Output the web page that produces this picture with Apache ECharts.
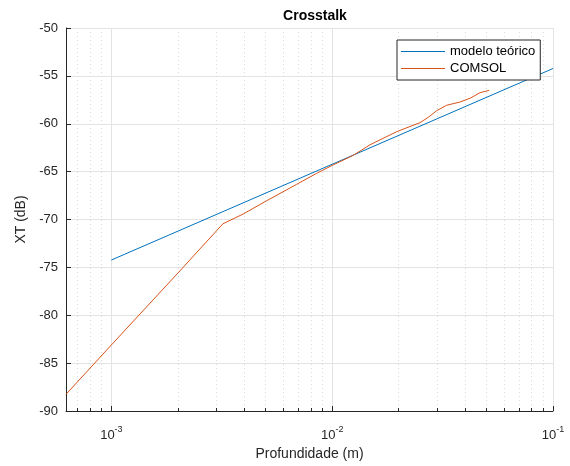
<!DOCTYPE html>
<html>
<head>
<meta charset="utf-8">
<script src="https://cdn.jsdelivr.net/npm/echarts@6/dist/echarts.min.js"></script>
<style>
    html, body { margin: 0; padding: 0; background: #fff; }
    #chart { width: 570px; height: 466px; }
</style>
</head>
<body>
<div id="chart"></div>
<script>
// depth (m) and crosstalk (dB)
const xLimits = [0.000623, 0.1];
const yLimits = [-90, -50];
const majorTicks = [0.001, 0.01, 0.1];
const minorTicks = [
    0.0007, 0.0008, 0.0009,
    0.002, 0.003, 0.004, 0.005, 0.006, 0.007, 0.008, 0.009,
    0.02, 0.03, 0.04, 0.05, 0.06, 0.07, 0.08, 0.09
];

const modeloX = [0.001, 0.01, 0.1];
const modeloY = [-74.23, -64.23, -54.23];

const comsolX = [0.000623, 0.001, 0.002, 0.0032, 0.00395, 0.00505, 0.0069, 0.0085, 0.01, 0.01245,
    0.01483, 0.01959, 0.02496, 0.02723, 0.02972, 0.03297, 0.0379, 0.0421, 0.0467, 0.0514];
const comsolY = [-88.26, -83.1, -75.6, -70.45, -69.43, -68.04, -66.33, -65.18, -64.35, -63.3,
    -62.2, -60.83, -59.89, -59.33, -58.64, -58.07, -57.73, -57.34, -56.76, -56.51];

const textColor = '#262626';
const font = 'Liberation Sans, Arial, sans-serif';
const lg = v => Math.log10(v);
const toPairs = (xs, ys) => xs.map((x, i) => [lg(x), ys[i]]);

const chart = echarts.init(document.getElementById('chart'));

const options = {
    backgroundColor: '#fff',
    animation: false,
    textStyle: { fontFamily: font },
    title: {
        text: 'Crosstalk',
        left: 310,
        top: 4,
        textAlign: 'center',
        textStyle: { fontSize: 14, fontWeight: 'bold', color: '#000', fontFamily: font }
    },
    legend: {
        left: 397,
        top: 40,
        orient: 'vertical',
        backgroundColor: '#fff',
        borderColor: textColor,
        borderWidth: 1,
        borderRadius: 0,
        padding: [5, 5, 5, 4],
        icon: 'rect',
        itemWidth: 44,
        itemHeight: 1,
        itemGap: 4,
        textStyle: { fontSize: 13, color: '#000', fontFamily: font },
        data: ['modelo teórico', 'COMSOL']
    },
    grid: {
        left: 66,
        right: 17,
        top: 28,
        bottom: 55
    },
    xAxis: [
        {
            type: 'value',
            min: lg(xLimits[0]),
            max: lg(xLimits[1]),
            name: 'Profundidade (m)',
            nameLocation: 'middle',
            nameGap: 36,
            nameTextStyle: { fontSize: 14, color: textColor, fontFamily: font },
            axisLine: { show: true, onZero: false, lineStyle: { color: textColor, width: 1 } },
            axisTick: { show: true, inside: true, length: 5, customValues: majorTicks.map(lg), lineStyle: { color: textColor } },
            axisLabel: {
                margin: 14,
                customValues: majorTicks.map(lg),
                formatter: v => '{b|10}{s|' + Math.round(v) + '}',
                rich: {
                    b: { fontSize: 13, lineHeight: 14, padding: [6, 0, 0, 0], color: textColor, fontFamily: font },
                    s: { fontSize: 9, lineHeight: 10, verticalAlign: 'top', color: textColor, fontFamily: font }
                }
            },
            splitLine: { show: true, lineStyle: { color: '#e3e3e3', width: 1 } }
        },
        {
            type: 'value',
            position: 'bottom',
            min: lg(xLimits[0]),
            max: lg(xLimits[1]),
            axisLine: { show: false },
            axisTick: { show: true, inside: true, length: 3, customValues: minorTicks.map(lg), lineStyle: { color: textColor } },
            axisLabel: { show: false },
            splitLine: { show: true, lineStyle: { color: '#dadada', width: 1, type: [1, 3] } }
        }
    ],
    yAxis: {
        type: 'value',
        min: yLimits[0],
        max: yLimits[1],
        interval: 5,
        name: 'XT (dB)',
        nameLocation: 'middle',
        nameGap: 36,
        nameTextStyle: { fontSize: 14, color: textColor, fontFamily: font },
        axisLine: { show: true, lineStyle: { color: textColor, width: 1 } },
        axisTick: { show: true, inside: true, length: 5, lineStyle: { color: textColor } },
        axisLabel: { fontSize: 13, color: textColor, margin: 8, fontFamily: font },
        splitLine: { show: true, lineStyle: { color: '#e3e3e3', width: 1 } }
    },
    series: [
        {
            name: 'modelo teórico',
            type: 'line',
            symbol: 'none',
            xAxisIndex: 0,
            lineStyle: { color: '#0072BD', width: 1 },
            itemStyle: { color: '#0072BD' },
            data: toPairs(modeloX, modeloY)
        },
        {
            name: 'COMSOL',
            type: 'line',
            symbol: 'none',
            xAxisIndex: 0,
            lineStyle: { color: '#D95319', width: 1 },
            itemStyle: { color: '#D95319' },
            data: toPairs(comsolX, comsolY)
        }
    ]
};

chart.setOption(options);
</script>
</body>
</html>
